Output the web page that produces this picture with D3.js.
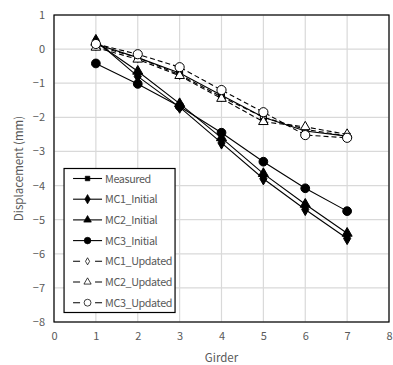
<!DOCTYPE html>
<html>
<head>
<meta charset="utf-8">
<script src="https://cdn.jsdelivr.net/npm/d3@7"></script>
<style>
  body { margin: 0; background: #fff; }
  text { font-family: "Noto Sans CJK KR", "Open Sans", sans-serif; }
</style>
</head>
<body>
<div id="chart"></div>
<script>
const girders = [1, 2, 3, 4, 5, 6, 7];
const measured   = [0.15, -0.25, -0.7, -1.35, -2.0, -2.4, -2.55];
const mc1Initial = [0.25, -0.8, -1.7, -2.75, -3.8, -4.7, -5.55];
const mc2Initial = [0.2, -0.65, -1.6, -2.6, -3.65, -4.55, -5.4];
const mc3Initial = [-0.42, -1.02, -1.68, -2.45, -3.3, -4.08, -4.75];
const mc1Updated = [0.1, -0.25, -0.75, -1.4, -2.0, -2.35, -2.55];
const mc2Updated = [0.05, -0.3, -0.78, -1.45, -2.13, -2.28, -2.5];
const mc3Updated = [0.15, -0.15, -0.53, -1.2, -1.85, -2.52, -2.6];
const xTicks = [0, 1, 2, 3, 4, 5, 6, 7, 8];
const yTicks = [1, 0, -1, -2, -3, -4, -5, -6, -7, -8];

const series = [
  { name: "Measured", values: measured, shape: "square", fill: true, dash: null },
  { name: "MC1_Initial", values: mc1Initial, shape: "diamond", fill: true, dash: null },
  { name: "MC2_Initial", values: mc2Initial, shape: "triangle", fill: true, dash: null },
  { name: "MC3_Initial", values: mc3Initial, shape: "circle", fill: true, dash: null },
  { name: "MC1_Updated", values: mc1Updated, shape: "diamond", fill: false, dash: "5,3" },
  { name: "MC2_Updated", values: mc2Updated, shape: "triangle", fill: false, dash: "5,3" },
  { name: "MC3_Updated", values: mc3Updated, shape: "circle", fill: false, dash: "5,3" }
];

const W = 393, H = 365;
const margin = { top: 15, right: 4, bottom: 43, left: 54 };
const width = W - margin.left - margin.right;
const height = H - margin.top - margin.bottom;

const svg = d3.select("#chart").append("svg")
  .attr("width", W)
  .attr("height", H)
  .append("g")
  .attr("transform", `translate(${margin.left},${margin.top})`);

const x = d3.scaleLinear().domain([0, 8]).range([0, width]);
const y = d3.scaleLinear().domain([-8, 1]).range([height, 0]);

// grid
svg.append("g").selectAll("line")
  .data(xTicks)
  .enter().append("line")
  .attr("x1", d => x(d)).attr("x2", d => x(d))
  .attr("y1", 0).attr("y2", height)
  .attr("stroke", "#d9d9d9").attr("stroke-width", 1.2);
svg.append("g").selectAll("line")
  .data(yTicks)
  .enter().append("line")
  .attr("y1", d => y(d)).attr("y2", d => y(d))
  .attr("x1", 0).attr("x2", width)
  .attr("stroke", "#d9d9d9").attr("stroke-width", 1.2);

// axes (labels only)
const xAxis = svg.append("g")
  .attr("transform", `translate(0,${height})`)
  .call(d3.axisBottom(x).tickValues(xTicks).tickSize(0).tickPadding(10));
const yAxis = svg.append("g")
  .call(d3.axisLeft(y).tickValues(yTicks).tickSize(0).tickPadding(9));
[xAxis, yAxis].forEach(a => {
  a.select(".domain").remove();
  a.selectAll("text").attr("fill", "#595959").style("font-size", "11px");
});

// frame
svg.append("rect")
  .attr("width", width).attr("height", height)
  .attr("fill", "none").attr("stroke", "#000").attr("stroke-width", 1.2);

// axis titles
svg.append("text")
  .attr("x", width / 2).attr("y", height + 40)
  .attr("text-anchor", "middle")
  .attr("fill", "#595959").style("font-size", "11.5px")
  .text("Girder");
svg.append("text")
  .attr("transform", "rotate(-90)")
  .attr("x", -height / 2).attr("y", -31)
  .attr("text-anchor", "middle")
  .attr("fill", "#595959").style("font-size", "11.5px")
  .text("Displacement (mm)");

function symbolFor(s) {
  if (s.shape === "square") return d3.symbol().type(d3.symbolSquare).size(36)();
  if (s.shape === "diamond") return d3.symbol().type(d3.symbolDiamond).size(s.fill ? 44 : 26)();
  if (s.shape === "triangle") return d3.symbol().type(d3.symbolTriangle).size(s.fill ? 44 : 40)();
  return d3.symbol().type(d3.symbolCircle).size(s.fill ? 60 : 66)();
}

const line = d3.line()
  .x((d, i) => x(girders[i]))
  .y(d => y(d));

series.forEach(s => {
  svg.append("path")
    .datum(s.values)
    .attr("d", line)
    .attr("fill", "none")
    .attr("stroke", "#000")
    .attr("stroke-width", 1.1)
    .attr("stroke-dasharray", s.dash);
});

series.forEach(s => {
  svg.append("g").selectAll("path")
    .data(s.values)
    .enter().append("path")
    .attr("d", symbolFor(s))
    .attr("transform", (d, i) => `translate(${x(girders[i])},${y(d)})`)
    .attr("fill", s.fill ? "#000" : "#fff")
    .attr("stroke", "#000")
    .attr("stroke-width", 1);
});

// legend
const legend = svg.append("g").attr("transform", `translate(${x(0.24)},${y(-3.5)})`);
legend.append("rect")
  .attr("width", 111).attr("height", 144)
  .attr("fill", "#fff").attr("stroke", "#000").attr("stroke-width", 1.2);
series.forEach((s, i) => {
  const g = legend.append("g").attr("transform", `translate(0,${10 + i * 20.7})`);
  g.append("line")
    .attr("x1", 9).attr("x2", 38)
    .attr("stroke", "#000").attr("stroke-width", 1.1)
    .attr("stroke-dasharray", s.dash ? "7,15" : null);
  g.append("path")
    .attr("d", symbolFor(s))
    .attr("transform", "translate(23.5,0) scale(0.75)")
    .attr("fill", s.fill ? "#000" : "#fff")
    .attr("stroke", "#000");
  g.append("text")
    .attr("x", 41).attr("y", 4)
    .attr("fill", "#595959").style("font-size", "10.8px")
    .style("letter-spacing", "-0.4px")
    .text(s.name);
});
</script>
</body>
</html>
